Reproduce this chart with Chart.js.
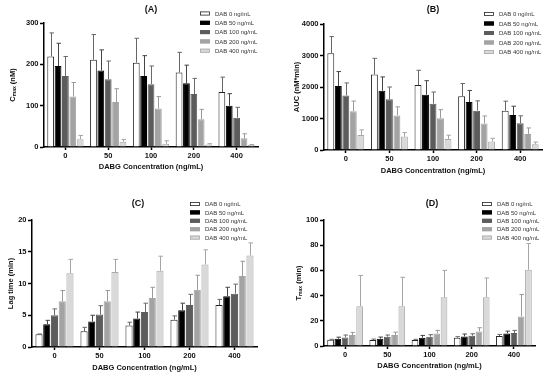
<!DOCTYPE html>
<html>
<head>
<meta charset="utf-8">
<script src="https://cdn.jsdelivr.net/npm/chart.js@4.4.1/dist/chart.umd.min.js"></script>
<style>
  body { margin: 0; background: #fff; }
  #wrap { position: relative; width: 550px; height: 377px; background: #fff; }
  canvas { position: absolute; }
</style>
</head>
<body>
<div id="wrap">
  <canvas id="cA" style="left:0;top:0"></canvas>
  <canvas id="cB" style="left:275px;top:0"></canvas>
  <canvas id="cC" style="left:0;top:188px"></canvas>
  <canvas id="cD" style="left:275px;top:188px"></canvas>
</div>
<script>
// DABG concentrations on the x axis
const categories = ['0', '50', '100', '200', '400'];
// one series per DAB concentration
const seriesLabels = ['DAB 0 ng/mL', 'DAB 50 ng/mL', 'DAB 100 ng/mL', 'DAB 200 ng/mL', 'DAB 400 ng/mL'];

// (A) Cmax, nM — rows are series, columns are categories
const cmaxMean = [
    [219, 211, 204, 180, 133],
    [196, 185, 172, 154, 100],
    [172, 164, 152, 128, 71],
    [122, 109, 93, 67, 21],
    [19, 13, 8, 6, 5]
];
const cmaxSd = [
    [57, 61, 59, 49, 36],
    [55, 50, 49, 44, 29],
    [47, 44, 44, 38, 25],
    [34, 32, 29, 24, 11],
    [9, 5, 7, 2, 1]
];

// (B) AUC, nM*min
const aucMean = [
    [3070, 2400, 2060, 1710, 1250],
    [2030, 1880, 1755, 1520, 1110],
    [1734, 1610, 1470, 1250, 850],
    [1234, 1096, 1010, 840, 511],
    [479, 425, 350, 270, 180]
];
const aucSd = [
    [530, 510, 470, 400, 300],
    [460, 440, 445, 370, 280],
    [394, 390, 370, 310, 235],
    [319, 274, 270, 240, 189],
    [159, 128, 120, 100, 70]
];

// (C) Lag time, min
const lagMean = [
    [2.0, 2.5, 3.4, 4.3, 6.6],
    [3.6, 4.0, 4.5, 5.8, 8.0],
    [5.0, 5.1, 5.5, 6.6, 8.4],
    [7.2, 7.2, 7.7, 9.0, 11.2],
    [11.6, 11.8, 12.0, 13.0, 14.4]
];
const lagSd = [
    [0.05, 0.6, 0.5, 0.6, 0.9],
    [0.6, 1.0, 1.0, 1.1, 1.4],
    [1.0, 1.4, 1.4, 1.7, 1.5],
    [1.7, 1.7, 1.7, 2.3, 2.3],
    [2.2, 2.0, 2.3, 2.3, 2.0]
];

// (D) Tmax, min
const tmaxMean = [
    [5.0, 4.7, 4.7, 6.6, 7.9],
    [5.8, 5.8, 6.6, 7.6, 10.0],
    [6.8, 7.4, 7.4, 8.2, 10.3],
    [8.7, 8.7, 10.0, 11.6, 23.4],
    [31.6, 31.6, 38.7, 38.7, 60.5]
];
const tmaxSd = [
    [0.3, 0.8, 0.6, 0.8, 1.3],
    [1.2, 1.3, 1.8, 1.9, 1.8],
    [1.9, 1.3, 1.6, 1.5, 2.1],
    [2.1, 2.3, 2.4, 2.9, 17.4],
    [24.4, 22.9, 21.3, 15.3, 20.8]
];

// стили серий
const fills = ['#ffffff', '#000000', '#5c5c5c', '#a3a3a3', '#d9d9d9'];
const borders = ['#222222', '#000000', '#5c5c5c', '#a3a3a3', '#a9a9a9'];
const errColors = ['#666666', '#444444', '#6a6a6a', '#9a9a9a', '#a5a5a5'];

const FONT = "'Liberation Sans', Arial, sans-serif";
const W = 275;

// заголовок, подпись оси Y, легенда и планки погрешностей
function decorPlugin(p) {
    return {
        id: 'decor' + p.id,
        afterDatasetsDraw(chart) {
            const ctx = chart.ctx;
            const ys = chart.scales.y;
            ctx.save();
            ctx.lineWidth = 1;
            p.means.forEach((row, i) => {
                const meta = chart.getDatasetMeta(i);
                ctx.strokeStyle = errColors[i];
                meta.data.forEach((bar, j) => {
                    const top = ys.getPixelForValue(row[j] + p.sds[i][j]);
                    const x = Math.round(bar.x) + 0.5;
                    ctx.beginPath();
                    ctx.moveTo(x, bar.y);
                    ctx.lineTo(x, top);
                    ctx.moveTo(x - 2, top);
                    ctx.lineTo(x + 2.5, top);
                    ctx.stroke();
                });
            });
            ctx.restore();
        },
        afterDraw(chart) {
            const ctx = chart.ctx;
            const area = chart.chartArea;
            ctx.save();
            // panel title
            ctx.fillStyle = '#111';
            ctx.font = 'bold 9px ' + FONT;
            ctx.textAlign = 'center';
            ctx.textBaseline = 'middle';
            ctx.fillText(p.title, p.titleX, p.titleY);

            // y-axis title with optional subscript
            ctx.translate(p.yTitleX, (area.top + area.bottom) / 2);
            ctx.rotate(-Math.PI / 2);
            const big = 'bold 7.5px ' + FONT;
            const small = 'bold 5px ' + FONT;
            let total = 0;
            p.yTitle.forEach(([t, sub]) => {
                ctx.font = sub ? small : big;
                total += ctx.measureText(t).width;
            });
            let cx = -total / 2;
            ctx.textAlign = 'left';
            ctx.textBaseline = 'middle';
            p.yTitle.forEach(([t, sub]) => {
                ctx.font = sub ? small : big;
                ctx.fillText(t, cx, sub ? 2 : 0);
                cx += ctx.measureText(t).width;
            });
            ctx.restore();

            // legend
            ctx.save();
            ctx.font = '6px ' + FONT;
            ctx.textBaseline = 'middle';
            ctx.textAlign = 'left';
            seriesLabels.forEach((lab, i) => {
                const y = p.legendY + i * p.legendStep;
                ctx.fillStyle = fills[i];
                ctx.fillRect(p.legendX, y - 2, 10, 4);
                ctx.strokeStyle = borders[i];
                ctx.lineWidth = 0.8;
                ctx.strokeRect(p.legendX + 0.4, y - 2 + 0.4, 9.2, 3.2);
                ctx.fillStyle = '#333';
                ctx.fillText(lab, p.legendX + 15, y + 0.5);
            });
            ctx.restore();
        }
    };
}

function makeChart(p) {
    const canvas = document.getElementById(p.id);
    canvas.width = W;
    canvas.height = p.h;
    canvas.style.width = W + 'px';
    canvas.style.height = p.h + 'px';
    const datasets = p.means.map((row, i) => ({
        label: seriesLabels[i],
        data: row,
        backgroundColor: fills[i],
        borderColor: borders[i],
        borderWidth: 1,
        categoryPercentage: 0.86,
        barPercentage: 0.92
    }));
    return new Chart(canvas.getContext('2d'), {
        type: 'bar',
        data: { labels: categories, datasets: datasets },
        plugins: [decorPlugin(p)],
        options: {
            responsive: false,
            animation: false,
            devicePixelRatio: 1,
            layout: { padding: { left: 0, top: p.area.top, right: W - p.area.right, bottom: 0 } },
            plugins: { legend: { display: false }, tooltip: { enabled: false }, title: { display: false } },
            scales: {
                x: {
                    grid: { display: true, drawOnChartArea: false, offset: false, tickLength: 3, tickWidth: 1.5, tickColor: '#000' },
                    border: { color: '#000', width: 1.5 },
                    ticks: { color: '#111', padding: 1, font: { family: FONT, size: 7.5, weight: 'bold' } },
                    title: {
                        display: true,
                        text: 'DABG Concentration (ng/mL)',
                        color: '#111',
                        font: { family: FONT, size: 7.5, weight: 'bold' },
                        padding: { top: 0, bottom: p.xTitlePad }
                    },
                    afterFit: s => { s.height = p.h - p.area.bottom; }
                },
                y: {
                    min: 0,
                    max: p.max,
                    grid: { display: true, drawOnChartArea: false, tickLength: 4, tickWidth: 1.5, tickColor: '#000' },
                    border: { color: '#000', width: 1.5 },
                    ticks: {
                        stepSize: p.step,
                        color: '#111',
                        padding: 1.5,
                        font: { family: FONT, size: 7.5, weight: 'bold' },
                        callback: v => String(v)
                    },
                    afterFit: s => { s.width = p.area.left; }
                }
            }
        }
    });
}

makeChart({
    id: 'cA', h: 188, area: { left: 44, top: 23, right: 258, bottom: 147 },
    max: 300, step: 100, means: cmaxMean, sds: cmaxSd,
    title: '(A)', titleX: 151, titleY: 10,
    yTitle: [['C', false], ['max', true], [' (nM)', false]], yTitleX: 13,
    legendX: 200, legendY: 13.5, legendStep: 9.3, xTitlePad: 16.5
});
makeChart({
    id: 'cB', h: 188, area: { left: 49, top: 24, right: 267, bottom: 150 },
    max: 4000, step: 1000, means: aucMean, sds: aucSd,
    title: '(B)', titleX: 158, titleY: 10,
    yTitle: [['AUC (nM*min)', false]], yTitleX: 22,
    legendX: 209, legendY: 14, legendStep: 9.5, xTitlePad: 12.5
});
makeChart({
    id: 'cC', h: 189, area: { left: 32, top: 32, right: 257, bottom: 159 },
    max: 20, step: 5, means: lagMean, sds: lagSd,
    title: '(C)', titleX: 138, titleY: 16,
    yTitle: [['Lag time (min)', false]], yTitleX: 11,
    legendX: 190, legendY: 16, legendStep: 8.4, xTitlePad: 4.5
});
makeChart({
    id: 'cD', h: 189, area: { left: 49, top: 32, right: 260, bottom: 158 },
    max: 100, step: 20, means: tmaxMean, sds: tmaxSd,
    title: '(D)', titleX: 157, titleY: 16,
    yTitle: [['T', false], ['max', true], [' (min)', false]], yTitleX: 24,
    legendX: 207, legendY: 16, legendStep: 8.4, xTitlePad: 6.5
});
</script>
</body>
</html>
